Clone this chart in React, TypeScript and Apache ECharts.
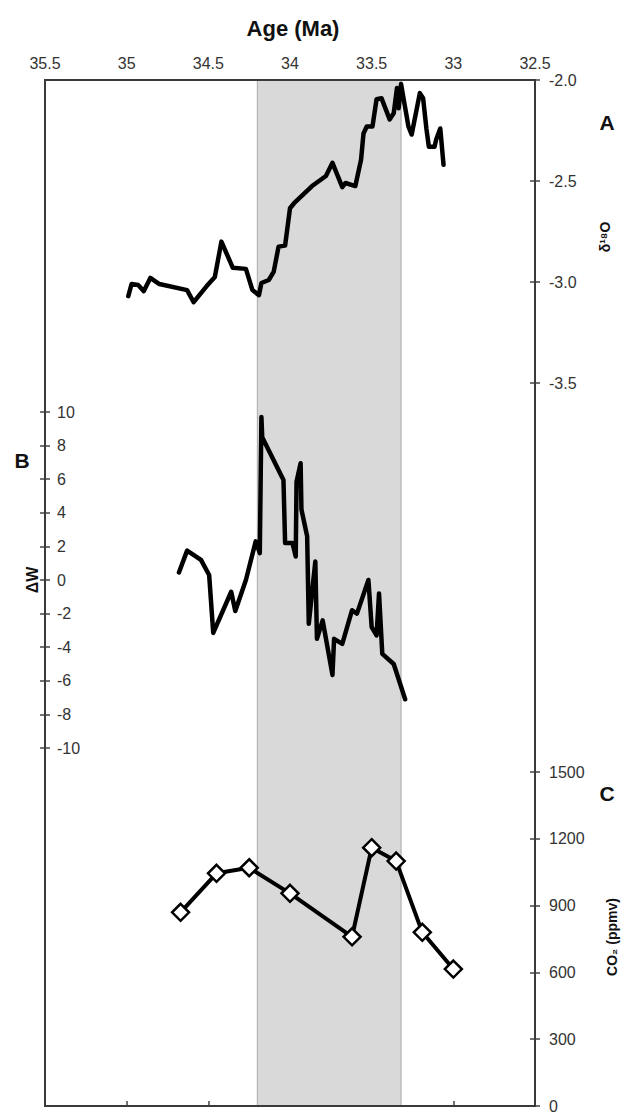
import React, { useEffect, useRef } from "react";
import * as echarts from "echarts";

// Panel A: benthic δ18O record
const d18oAge = [34.99, 34.97, 34.93, 34.895, 34.855, 34.8, 34.63, 34.59, 34.51, 34.46, 34.42, 34.35, 34.27, 34.23, 34.19, 34.175, 34.13, 34.1, 34.07, 34.03, 34.0, 33.975, 33.865, 33.78, 33.74, 33.68, 33.66, 33.6, 33.565, 33.55, 33.53, 33.495, 33.47, 33.44, 33.39, 33.365, 33.345, 33.335, 33.32, 33.275, 33.255, 33.205, 33.185, 33.165, 33.15, 33.115, 33.105, 33.08, 33.06];
const d18oVal = [-3.07, -3.01, -3.015, -3.045, -2.98, -3.01, -3.04, -3.1, -3.02, -2.975, -2.8, -2.93, -2.935, -3.04, -3.065, -3.005, -2.99, -2.95, -2.825, -2.82, -2.635, -2.61, -2.525, -2.475, -2.41, -2.53, -2.51, -2.525, -2.395, -2.265, -2.23, -2.23, -2.095, -2.09, -2.195, -2.165, -2.04, -2.14, -2.02, -2.23, -2.27, -2.065, -2.09, -2.24, -2.33, -2.33, -2.295, -2.24, -2.42];

// Panel B: ΔW record
const dwAge = [34.68, 34.63, 34.545, 34.495, 34.47, 34.36, 34.335, 34.27, 34.21, 34.185, 34.175, 34.17, 34.04, 34.03, 33.985, 33.965, 33.96, 33.935, 33.93, 33.895, 33.885, 33.845, 33.835, 33.8, 33.74, 33.73, 33.68, 33.62, 33.59, 33.52, 33.5, 33.47, 33.455, 33.435, 33.365, 33.295];
const dwVal = [0.45, 1.75, 1.2, 0.3, -3.15, -0.7, -1.85, 0.0, 2.3, 1.6, 9.7, 8.5, 5.95, 2.2, 2.2, 1.4, 5.85, 6.95, 4.2, 2.6, -2.6, 1.1, -3.5, -2.4, -5.65, -3.5, -3.8, -1.8, -2.0, 0.0, -2.8, -3.3, -0.8, -4.4, -5.0, -7.1];

// Panel C: CO2 (ppmv)
const co2Age = [34.67, 34.45, 34.25, 34.0, 33.62, 33.5, 33.35, 33.19, 33.0];
const co2Val = [870, 1045, 1070, 955, 760, 1160, 1100, 780, 615];

// EOT shaded interval (Ma)
const eotBand = [34.2, 33.32];

// Axis ranges
const ageRange = [32.5, 35.5];
const d18oRange = [-3.5, -2.0];
const dwRange = [-10, 10];
const co2Range = [0, 1500];

const FONT = "'Liberation Sans', Arial, Helvetica, sans-serif";

export default function App() {
  const ref = useRef<HTMLDivElement>(null);

  useEffect(() => {
    if (!ref.current) return;
    const chart = echarts.init(ref.current, null, { renderer: "svg" });

    const L = 45;
    const W = 490;
    const T = 80;
    const H = 1026;
    const gridA = { left: L, top: T, width: W, height: 303 };
    const gridB = { left: L, top: 412, width: W, height: 336 };
    const gridC = { left: L, top: 772, width: W, height: 334 };

    const zip = (a: number[], b: number[]) => a.map((v, i) => [v, b[i]]);
    const tickLabel = { color: "#333", fontSize: 16, fontFamily: FONT };

    const hiddenX = (gi: number) => ({
      gridIndex: gi,
      type: "value",
      min: ageRange[0],
      max: ageRange[1],
      inverse: true,
      show: false,
    });

    const yAx = (
      gi: number,
      pos: "left" | "right",
      range: number[],
      interval: number,
      labels: boolean,
      tickInside: boolean,
      fmt?: (v: number) => string
    ) => ({
      gridIndex: gi,
      type: "value",
      position: pos,
      min: range[0],
      max: range[1],
      interval,
      splitLine: { show: false },
      axisLine: { show: false },
      axisTick: { show: true, inside: tickInside, length: 5, lineStyle: { color: "#444", width: 1.5 } },
      axisLabel: labels
        ? { show: true, ...tickLabel, margin: pos === "left" ? 12 : 14, inside: pos === "left", formatter: fmt }
        : { show: false },
    });

    const option: any = {
      animation: false,
      backgroundColor: "#fff",
      grid: [
        { left: L, top: T, width: W, height: H },
        gridA,
        gridB,
        gridC,
      ],
      xAxis: [
        {
          gridIndex: 0,
          type: "value",
          position: "top",
          min: ageRange[0],
          max: ageRange[1],
          interval: 0.5,
          inverse: true,
          splitLine: { show: false },
          axisLine: { show: true, lineStyle: { color: "#333", width: 2 } },
          axisTick: { show: true, inside: false, length: 5, lineStyle: { color: "#444", width: 1.5 } },
          axisLabel: { ...tickLabel, margin: 9, formatter: (v: number) => String(v) },
        },
        hiddenX(1),
        hiddenX(2),
        hiddenX(3),
      ],
      yAxis: [
        { gridIndex: 0, type: "value", min: 0, max: 1, show: false },
        yAx(1, "right", d18oRange, 0.5, true, false, (v: number) => v.toFixed(1)),
        yAx(1, "right", d18oRange, 0.5, false, true),
        yAx(2, "left", dwRange, 2, true, true, (v: number) => String(v)),
        yAx(2, "left", dwRange, 2, false, false),
        yAx(3, "right", co2Range, 300, true, false, (v: number) => String(v)),
        yAx(3, "right", co2Range, 300, false, true),
      ],
      graphic: [
        {
          type: "rect",
          z: 50,
          shape: { x: L, y: T, width: W, height: H },
          style: { fill: "none", stroke: "#3a3a3a", lineWidth: 2 },
        },
        {
          type: "text",
          x: 293,
          y: 28,
          style: { text: "Age (Ma)", font: `bold 22px ${FONT}`, fill: "#111", align: "center", verticalAlign: "middle" },
        },
        {
          type: "text",
          x: 336,
          y: 357,
          style: { text: "EOT", font: `bold 38px ${FONT}`, fill: "#111", align: "center", verticalAlign: "middle" },
        },
        {
          type: "text",
          x: 607,
          y: 122,
          style: { text: "A", font: `bold 21px ${FONT}`, fill: "#111", align: "center", verticalAlign: "middle" },
        },
        {
          type: "text",
          x: 22,
          y: 460,
          style: { text: "B", font: `bold 21px ${FONT}`, fill: "#111", align: "center", verticalAlign: "middle" },
        },
        {
          type: "text",
          x: 607,
          y: 793,
          style: { text: "C", font: `bold 21px ${FONT}`, fill: "#111", align: "center", verticalAlign: "middle" },
        },
        {
          type: "text",
          x: 605,
          y: 237,
          rotation: Math.PI / 2,
          style: { text: "δ¹⁸O", font: `bold 14px ${FONT}`, fill: "#111", align: "center", verticalAlign: "middle" },
        },
        {
          type: "text",
          x: 32,
          y: 580,
          rotation: Math.PI / 2,
          style: { text: "ΔW", font: `bold 16px ${FONT}`, fill: "#111", align: "center", verticalAlign: "middle" },
        },
        {
          type: "text",
          x: 612,
          y: 937,
          rotation: Math.PI / 2,
          style: { text: "CO₂ (ppmv)", font: `bold 14px ${FONT}`, fill: "#111", align: "center", verticalAlign: "middle" },
        },
      ],
      series: [
        {
          type: "line",
          xAxisIndex: 0,
          yAxisIndex: 0,
          data: [],
          silent: true,
          z: 1,
          markArea: {
            silent: true,
            itemStyle: { color: "#d9d9d9", borderColor: "#a9a9a9", borderWidth: 1 },
            data: [[{ xAxis: eotBand[0] }, { xAxis: eotBand[1] }]],
          },
        },
        {
          name: "d18O",
          type: "line",
          xAxisIndex: 1,
          yAxisIndex: 1,
          data: zip(d18oAge, d18oVal),
          showSymbol: false,
          symbol: "none",
          z: 5,
          lineStyle: { color: "#000", width: 4.5, join: "round", cap: "round" },
        },
        {
          name: "dW",
          type: "line",
          xAxisIndex: 2,
          yAxisIndex: 3,
          data: zip(dwAge, dwVal),
          showSymbol: false,
          symbol: "none",
          z: 5,
          lineStyle: { color: "#000", width: 4.5, join: "round", cap: "round" },
        },
        {
          name: "CO2",
          type: "line",
          xAxisIndex: 3,
          yAxisIndex: 5,
          data: zip(co2Age, co2Val),
          symbol: "diamond",
          symbolSize: 17,
          z: 5,
          itemStyle: { color: "#fff", borderColor: "#000", borderWidth: 2.5 },
          lineStyle: { color: "#000", width: 4 },
        },
      ],
    };

    chart.setOption(option);
    return () => chart.dispose();
  }, []);

  return (
    <div
      ref={ref}
      style={{ position: "fixed", left: 0, top: 0, width: 624, height: 1114, background: "#fff" }}
    />
  );
}
